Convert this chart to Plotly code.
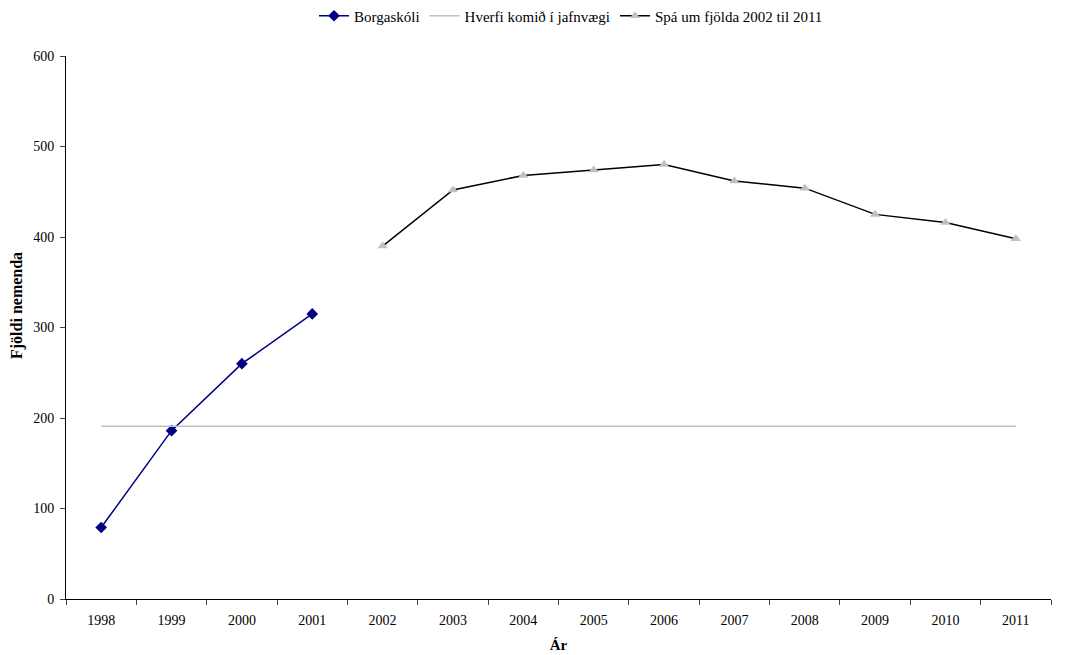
import plotly.graph_objects as go

years = [str(y) for y in range(1998, 2012)]
borga_years = ["1998", "1999", "2000", "2001"]
borga_vals = [79, 186, 260, 315]
jafn_vals = [191] * 14
spa_years = [str(y) for y in range(2002, 2012)]
spa_vals = [390, 452, 468, 474, 480, 462, 454, 425, 416, 398]

fig = go.Figure()
fig.add_trace(go.Scatter(x=borga_years, y=borga_vals, name="Borgaskóli", mode="lines+markers",
                         line=dict(color="#000080", width=1.5),
                         marker=dict(symbol="diamond", size=9, color="#000080")))
fig.add_trace(go.Scatter(x=years, y=jafn_vals, name="Hverfi komið í jafnvægi", mode="lines",
                         line=dict(color="#C0C0C0", width=1.5)))
fig.add_trace(go.Scatter(x=spa_years, y=spa_vals, name="Spá um fjölda 2002 til 2011", mode="lines+markers",
                         line=dict(color="#000000", width=1.5),
                         marker=dict(symbol="triangle-up", size=9, color="#C0C0C0")))

fig.update_layout(
    width=1067, height=655,
    margin=dict(l=58, r=24, t=48, b=64, autoexpand=False),
    paper_bgcolor="white", plot_bgcolor="white",
    font=dict(family="Liberation Serif, Times New Roman, serif", size=14, color="black"),
    showlegend=True,
    legend=dict(orientation="h", xref="container", yref="container",
                x=306 / 1067, xanchor="left", y=1 - 8 / 655, yanchor="middle",
                font=dict(size=15), itemwidth=30, tracegroupgap=0,
                bgcolor="rgba(0,0,0,0)"),
    xaxis=dict(type="category", categoryorder="array", categoryarray=years,
               range=[-0.5, 13.5], tickson="boundaries", ticks="outside", ticklen=5,
               ticklabelstandoff=8,
               showline=True, linecolor="black", linewidth=1, showgrid=False, zeroline=False,
               title=dict(text="<b>Ár</b>", standoff=12, font=dict(size=15)),
               tickfont=dict(size=14)),
    yaxis=dict(range=[0, 600], dtick=100, ticks="outside", ticklen=5,
               ticklabelstandoff=3,
               showline=True, linecolor="black", linewidth=1, showgrid=False, zeroline=False,
               tickfont=dict(size=14)),
    annotations=[dict(text="<b>Fjöldi nemenda</b>", xref="paper", yref="paper",
                      x=(17 - 66) / 985, y=(599 - 306) / 543, xanchor="center", yanchor="middle",
                      textangle=-90, showarrow=False, font=dict(size=16))],
)

fig.write_html("out.html")
